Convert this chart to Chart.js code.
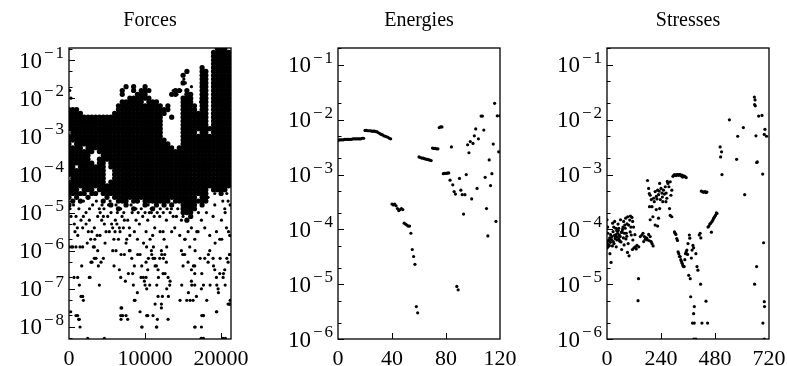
<!DOCTYPE html>
<html>
<head>
<meta charset="utf-8">
<script src="https://cdn.jsdelivr.net/npm/chart.js@4.4.1/dist/chart.umd.min.js"></script>
<style>
  html, body { margin: 0; padding: 0; background: #fff; overflow: hidden; }
  body { width: 787px; height: 366px; position: relative; }
  .panel { position: absolute; top: 0; height: 366px; pointer-events: none; }
</style>
</head>
<body>
<div class="panel" style="left:0;width:300px"><canvas id="forces"></canvas></div>
<div class="panel" style="left:262px;width:314px"><canvas id="energies"></canvas></div>
<div class="panel" style="left:526px;width:324px"><canvas id="stresses"></canvas></div>
<script>
// Forces: the dense cloud, read column by column (every 500 iterations).
// numbers are -10*log10(error), i.e. "25" means 10^-2.5
const forceCols = [0, 500, 1000, 1500, 2000, 2500, 3000, 3500, 4000, 4500, 5000, 5500, 6000, 6500, 7000,
  7500, 8000, 8500, 9000, 9500, 10000, 10500, 11000, 11500, 12000, 12500, 13000, 13500, 14000, 14500,
  15000, 15500, 16000, 16500, 17000, 17500, 18000, 18500, 19000, 19500, 20000, 20500, 21000];
const forceCloud = [
  "23 24 25 26 27 28 30 31 32 33 34 35 36 37 38 39 40 42 43 44 45 46 48",
  "23 24 25 26 27 28 29 30 31 33 34 35 36 37 38 39 40 41 42 43 44 45 47",
  "23 24 25 26 27 28 29 30 31 32 33 34 35 36 37 39 40 41 42 43 44 45 46",
  "24 25 26 27 28 29 30 31 32 33 34 35 36 37 38 39 40 41 42 43 45 47",
  "25 26 27 28 29 30 31 32 34 35 36 37 38 39 40 41 42 43 44 45",
  "25 26 27 28 29 30 31 32 33 34 35 36 37 38 39 40 41 42 43 44 46",
  "25 26 27 28 29 30 31 32 33 34 37 38 39 40 41 42 43 44 45",
  "25 26 27 28 29 30 31 32 33 38 39 40 41 42 43 45",
  "25 26 27 28 29 30 31 32 33 34 36 37 38 39 40 41 42 43 44",
  "25 26 27 28 29 30 31 32 33 34 35 36 37 38 39 40 41 42 43 44 45 47",
  "25 26 27 28 29 30 31 32 33 34 35 36 43 44 45 46",
  "25 26 27 28 29 30 31 32 33 34 35 36 37 38 42 43 44 45 48",
  "24 25 26 27 28 29 30 31 32 33 34 35 36 37 38 39 40 41 42 43 44 45 46",
  "22 23 24 25 26 27 28 29 30 31 32 33 34 35 36 37 38 39 40 41 42 43 44 45 46 47 49",
  "18 19 21 22 23 24 25 26 27 28 29 30 31 32 33 34 35 36 37 38 39 40 41 42 43 44 45 46 47",
  "17 21 22 23 24 25 26 27 28 29 30 31 32 33 34 35 36 37 38 39 40 41 42 43 44 45 46 47 48",
  "20 21 22 23 24 25 26 27 28 29 30 31 32 33 34 35 36 37 38 39 40 41 42 43 44 45 46",
  "17 18 20 21 22 23 24 25 26 27 28 29 30 31 32 33 34 35 36 37 38 39 40 41 42 43 44 45 46 47 49",
  "19 20 21 22 23 24 25 26 27 28 29 30 31 32 33 34 35 36 37 38 39 40 41 42 43 44 45 46 47",
  "18 19 20 21 22 23 24 25 26 27 28 29 30 31 32 33 34 35 36 37 38 39 40 41 42 43 44 45 46",
  "17 18 19 20 22 23 24 25 26 27 28 29 30 31 32 33 34 35 36 37 38 39 40 41 42 43 44 45 46 47 48",
  "18 20 21 22 23 24 25 26 27 28 29 30 31 32 33 34 35 36 37 38 39 40 41 42 43 44 45 46 47",
  "21 22 23 24 25 26 27 28 29 30 31 32 33 34 35 36 37 38 39 40 41 42 43 44 45 46 47 49",
  "21 22 23 24 25 26 27 28 29 30 31 32 33 34 35 36 37 38 39 40 41 42 43 44 45 46 47 48",
  "22 23 24 25 26 27 28 29 30 31 32 33 34 35 36 37 38 39 40 41 42 43 44 45 46 47",
  "23 24 31 32 33 34 35 36 37 38 39 40 41 42 43 44 45 46 47 48",
  "22 23 32 33 34 35 36 37 38 39 40 41 42 43 44 45 46 47",
  "19 25 33 34 35 36 37 38 39 40 41 42 43 44 45 46 48",
  "18 19 34 35 36 37 38 39 40 41 42 43 44 45 46 47",
  "18 33 34 35 36 37 38 39 40 41 42 43 44 45 46 47",
  "14 16 20 21 22 23 24 25 26 27 28 29 30 31 32 33 34 35 36 37 38 39 40 41 42 43 44 45 46 47 48 49 50",
  "13 18 19 20 21 22 23 24 25 26 27 28 29 30 31 32 33 34 35 36 37 38 39 40 41 42 43 44 45 46 47 48 49 50 52",
  "19 20 21 22 23 24 25 26 27 28 29 30 31 32 33 34 35 36 37 38 39 40 41 42 43 44 45 46 47 48 49 50 51",
  "22 23 24 25 26 27 28 29 30 31 32 33 34 35 36 37 38 39 40 41 42 43 44 45 46 47 48 49",
  "24 25 26 27 28 30 31 32 33 34 35 36 37 38 39 40 41 42 43 44 45 47",
  "12 13 14 15 16 17 18 19 20 21 22 23 24 25 26 27 28 29 30 31 32 33 34 35 36 37 38 39 40 41 42 43 44 45 46 47 48",
  "13 14 15 16 17 18 19 20 21 22 23 24 25 26 27 28 29 30 31 32 33 34 35 36 37 38 39 40 41 42 43 44 45 46 47",
  "28 30 31 32 33 34 35 36 37 38 39 40 41 42 43",
  "8 9 10 11 12 13 14 15 16 17 18 19 20 21 22 23 24 25 26 27 28 29 30 31 32 33 34 35 36 37 38 39 40 41 42 43 44",
  "7 8 9 10 11 12 13 14 15 16 17 18 19 20 21 22 23 24 25 26 27 28 29 30 31 32 33 34 35 36 37 38 39 40 41 42 43 44",
  "7 8 9 10 11 12 13 14 15 16 17 18 19 20 21 22 23 24 25 26 27 28 29 30 31 32 33 34 35 36 37 38 39 40 41 42 43 44 45",
  "7 8 9 10 11 12 13 14 15 16 17 18 19 20 21 22 23 24 25 26 27 28 29 30 31 32 33 34 35 36 37 38 39 40 41 42 43 44",
  "8 9 10 11 12 13 14 15 16 17 18 19 20 21 22 23 24 25 26 27 28 29 30 31 32 33 34 35 36 37 38 39 40 41 42 43"
];
// Forces: the loose points outside the cloud, [iteration, -10*log10(error)]
const forceDots = [
  [130,49],[350,59],[790,55],[1100,54],[920,59],[1450,59],[1670,64],[660,67],[220,76],[920,77],[1270,78],[1450,80],
  [1890,51],[2240,53],[2540,55],[2850,57],[3200,59],[3550,62],[3860,64],[4080,56],[4300,52],[2760,67],[1800,72],[1890,73],
  [2460,83],[4650,83],[4520,51],[4870,55],[5400,47],[4740,58],[4520,62],[6050,55],[5750,60],[6360,50],[5920,64],[6800,67],
  [6930,75],[6800,77],[7500,77],[6710,55],[7150,54],[7590,57],[8030,60],[8250,62],[7810,66],[8460,69],[8680,73],[8990,71],
  [9340,61],[9560,64],[9780,67],[10000,69],[10220,70],[10440,62],[10660,57],[10880,61],[11100,59],[11320,64],[11540,69],
  [11760,67],[11970,55],[12190,61],[12410,62],[12630,66],[12850,70],[13070,72],[13290,68],[12850,59],[12280,72],[11320,74],
  [11540,80],[10220,77],[9340,76],[9560,80],[11620,78],[14600,73],[14960,61],[15260,57],[14820,69],[15700,71],[15480,73],
  [15920,73],[16140,69],[16360,64],[16580,60],[16800,55],[17020,50],[17240,62],[17460,66],[17680,69],[17460,77],[17680,77],
  [16580,80],[17370,83],[17680,83],[18110,73],[18550,69],[18330,61],[19000,64],[19210,58],[19430,69],[19650,71],[19870,62],
  [20090,57],[20310,66],[20530,69],[20750,62],[20970,55],[21100,61],[19430,76],[21100,74],[21190,73],[20220,47],[20530,50],
  [21190,48],[20750,45],
  [44,59],[482,59],[1798,59],[3333,59],[3772,60],[4211,63],[3333,62],[3026,63],[2895,63],[2675,67],[3991,69],[6184,60],
  [6623,65],[6842,61],[7281,61],[7412,68],[7939,60],[8377,66],[8596,64],[9035,61],[9474,67],[9912,68],[10132,63],[10351,65],
  [10132,67],[8596,73],[6842,75],[7061,77],[6842,78],[7719,78],[9605,80],[10351,77],[1140,67],[1360,69],[1579,72],[1140,77],[1360,78],
  [263,51],[921,51],[1579,52],[2237,50],[2675,52],[3333,54],[3772,51],[3991,49],[4342,48],[4649,53],[5088,51],[5526,50],[5746,54],
  [6096,52],[6184,48],[6623,54],[6974,51],[7281,52],[7719,52],[7939,54],[8158,48],[8596,55],[8816,52],[9254,53],[9693,51],[9912,48],
  [10132,55],[10351,52],[10570,50],[1150,56],[2400,58],[3400,57],[5900,57],[7500,58],[9800,58],[10200,59],
  [10834,50],[11272,54],[11930,51],[12368,55],[12807,52],[13465,49],[13904,54],[14123,51],[14561,56],[14781,52],[15000,51],
  [15219,57],[15658,55],[16096,54],[16535,57],[16974,55],[17412,52],[17851,54],[18070,50],[18509,56],[18947,51],[19167,48],
  [19386,55],[19825,57],[20044,52],[20482,49],[20702,54],[21140,56],[20921,47],[19167,45],[18289,46],[20263,44],
  [10832,60],[11051,62],[11270,62],[11490,64],[11709,65],[11928,62],[12147,60],[12586,61],[12805,63],[13025,67],[13244,69],
  [12367,66],[10612,69],[11709,72],[12147,74],[12147,75],[11051,77],[11490,80],[13025,78],[14779,60],[14998,64],[15218,61],
  [15656,63],[15876,59],[16095,65],[16095,68],[16534,64],[16534,66],[16534,69],[16314,73],[16753,72],[17411,70],[17630,77],
  [17411,80],[17849,62],[18288,63],[18507,60],[18946,62],[19165,65],[19384,67],[19604,70],[19823,66],[20262,67],[20481,65],
  [20919,63],[21139,61],[19384,76],[20919,74],[21139,74],[16534,80],[17411,83],[20262,83],[20569,83],
  [100,18],[250,20],[13700,18],[14200,19],[14700,18],[15100,15],[15300,16],[16100,17],[17300,21],
  [600,48],[1300,49],[1900,47],[2700,49],[3100,48],[3600,47],[4100,50],[4600,49],[5200,48],[5600,53],[6300,53],[6800,49],
  [7200,50],[7600,48],[8300,50],[8800,49],[9100,50],[9500,49],[10000,50],[10400,48],[10800,49],[11200,51],[11600,50],
  [12000,49],[12400,50],[12900,49],[13300,50],[13700,51],[14300,49],[700,53],[1800,54],[3000,55],[3700,56],[5300,55],
  [6500,57],[8000,56],[9000,57],[11000,56],[12500,57],[13500,55]
];

// Energies: one value per iteration
const energyIter = [
  0,1,2,3,4,5,6,7,8,9,10,11,12,13,14,15,16,17,18,19,20,21,22,23,24,25,26,27,28,29,
  30,31,32,33,34,35,36,37,38,39,40,41,42,43,44,45,46,47,48,49,50,51,52,53,54,55,56,57,58,59,
  60,61,62,63,64,65,66,67,68,69,70,71,72,73,74,75,76,77,78,79,80,81,82,
  83,84,85,86,87,88,89,90,91,92,93,94,95,96,97,98,99,100,101,102,103,104,106,107,108,109,110,
  111,112,113,114,115,116,117,118,119,120
];
const energyErr = [
  4.2e-3,4.3e-3,4.3e-3,4.3e-3,4.3e-3,4.4e-3,4.4e-3,4.4e-3,4.4e-3,4.4e-3,4.4e-3,4.5e-3,4.5e-3,4.5e-3,4.5e-3,4.5e-3,4.5e-3,4.5e-3,4.6e-3,4.6e-3,
  6.4e-3,6.4e-3,6.3e-3,6.3e-3,6.3e-3,6.2e-3,6.2e-3,6.2e-3,6.1e-3,6.0e-3,
  5.8e-3,5.6e-3,5.4e-3,5.3e-3,5.1e-3,5.0e-3,4.9e-3,4.8e-3,4.6e-3,4.5e-3,
  2.9e-4,2.8e-4,2.9e-4,2.7e-4,2.4e-4,2.2e-4,2.3e-4,2.4e-4,2.3e-4,
  1.3e-4,1.25e-4,1.2e-4,1.15e-4,1.15e-4,
  8.5e-5,4.3e-5,3.2e-5,2.3e-5,3.9e-6,3.0e-6,
  2.1e-3,2.05e-3,2.0e-3,2.0e-3,1.95e-3,1.92e-3,1.9e-3,1.87e-3,1.83e-3,1.8e-3,
  3.05e-3,3.0e-3,3.0e-3,2.95e-3,2.95e-3,
  7.2e-3,7.4e-3,7.4e-3,
  1.04e-3,1.05e-3,1.05e-3,1.06e-3,1.07e-3,
  7.9e-4,3.2e-3,6.5e-4,4.9e-4,4.4e-4,9.1e-6,7.9e-6,8.5e-4,5.2e-4,4.3e-4,1.9e-4,4.3e-4,1.0e-3,3.5e-3,2.5e-3,4.0e-3,
  3.6e-4,3.7e-3,5.1e-3,6.8e-3,5.6e-4,4.5e-3,1.17e-2,1.17e-2,6.5e-3,8.9e-4,2.4e-4,
  7.6e-5,1.85e-3,6.3e-4,1.04e-3,3.6e-3,2.0e-2,1.4e-4,1.18e-2,2.6e-3,1.18e-2
];

// Stresses: [iteration, error]
const stressPoints = [
  [0,1.5e-4],[1,4.6e-5],[2,5.5e-5],[3,1.1e-4],[4,8.5e-5],[5,6.2e-5],[7,4.9e-5],[9,6.4e-5],[10,5.1e-5],[12,7.0e-5],
  [13,3.6e-5],[15,5.8e-5],[16,8.0e-5],[18,2.5e-5],[20,6.5e-5],[22,7.4e-5],[24,5.0e-5],[25,1.3e-4],[27,9.1e-5],[28,6.0e-5],
  [30,1.1e-4],[31,5.5e-5],[33,7.8e-5],[34,1.4e-4],[36,6.8e-5],[37,7.4e-5],[39,1.05e-4],[40,8.0e-5],[41,4.8e-5],[43,9.5e-5],
  [44,6.4e-5],[46,7.2e-5],[47,8.5e-5],[49,1.25e-4],[50,9.5e-5],[52,1.05e-4],[53,6.6e-5],[55,7.9e-5],[57,6.1e-5],[59,7.4e-5],
  [60,1.5e-4],[62,5.9e-5],[64,8.8e-5],[65,4.3e-5],[67,9.1e-5],[69,1.0e-4],[71,1.1e-4],[73,7.0e-5],[74,1.4e-4],[76,5.2e-5],
  [77,8.5e-5],[79,1.2e-4],[81,1.05e-4],[83,1.6e-4],[84,6.7e-5],[86,8.5e-5],[88,7.5e-5],[89,1.26e-4],[91,3.8e-5],[92,1.7e-4],
  [94,5.5e-5],[96,1.2e-4],[98,3.3e-5],[101,1.48e-4],[103,9.0e-5],[104,1.75e-4],[106,1.1e-4],[108,7.9e-5],[111,1.65e-4],
  [113,4.3e-5],[114,1.4e-4],[115,6.4e-5],[118,1.1e-4],[120,4.6e-5],[124,8.0e-5],[126,4.8e-5],[130,4.4e-5],[133,5.1e-5],
  [138,5.0e-6],[140,1.26e-5],[141,4.8e-5],[148,7.4e-5],[155,7.9e-5],[160,8.5e-5],[163,6.0e-5],[166,7.4e-5],[170,6.6e-5],
  [172,7.1e-5],[177,6.9e-5],[180,6.4e-5],[185,8.1e-5],[189,6.2e-5],[192,7.4e-5],[196,6.0e-5],[200,5.5e-5],[205,5.0e-5],
  [180,7.8e-4],[185,5.6e-4],[188,4.5e-4],[189,2.6e-4],[192,4.2e-4],[192,1.5e-4],[197,3.5e-4],[200,2.6e-4],[204,1.7e-4],
  [207,3.7e-4],[210,3.2e-4],[214,4.9e-4],[214,1.2e-4],[219,4.0e-4],[219,2.3e-4],[222,3.6e-4],[225,5.2e-4],[225,1.15e-4],
  [229,4.3e-4],[229,1.6e-4],[232,5.0e-4],[234,6.9e-4],[234,2.4e-4],[237,3.5e-4],[240,5.6e-4],[244,4.6e-4],[246,3.9e-4],
  [248,3.2e-4],[251,5.2e-4],[255,4.4e-4],[259,6.0e-4],[262,3.2e-4],[263,4.6e-4],[266,3.7e-4],[268,7.5e-4],[271,6.9e-4],
  [275,6.0e-4],[278,2.4e-4],[281,7.4e-4],[281,1.8e-4],[284,4.2e-4],[288,5.2e-4],[288,1.7e-4],
  [293,9.3e-4],[296,9.6e-4],[300,1.0e-3],[303,9.8e-4],[307,9.6e-4],[311,1.0e-3],[315,1.0e-3],[318,9.7e-4],[322,1.0e-3],
  [325,1.0e-3],[329,9.5e-4],[333,9.8e-4],[336,9.0e-4],[340,9.5e-4],[344,9.3e-4],[348,9.1e-4],[352,8.8e-4],
  [300,9.0e-5],[303,8.5e-5],[306,8.1e-5],[310,6.8e-5],[313,6.3e-5],[316,3.9e-5],[319,3.6e-5],[322,3.2e-5],[325,3.2e-5],
  [328,2.8e-5],[331,2.6e-5],[334,2.4e-5],[337,2.2e-5],[340,2.1e-5],[343,2.1e-5],[346,2.8e-5],[349,3.6e-5],[352,3.9e-5],
  [355,4.2e-5],[358,3.5e-5],[360,5.5e-5],[363,1.45e-5],[366,7.9e-5],[368,6.9e-5],[370,1.26e-5],[372,5.9e-6],[375,3.0e-5],
  [378,4.2e-5],[380,1.95e-6],[382,5.1e-5],[385,4.6e-5],[385,2.9e-6],[388,3.9e-6],[388,1.95e-6],[386,1.0e-6],[395,1.0e-6],
  [395,3.6e-5],[400,2.1e-5],[404,1.8e-5],[410,7.9e-5],[414,8.5e-5],[417,7.0e-5],[416,1.0e-5],[422,1.95e-6],[440,4.9e-6],
  [447,1.95e-6],
  [419,5.0e-4],[423,4.9e-4],[427,4.8e-4],[431,4.8e-4],[436,4.9e-4],[440,4.7e-4],[444,4.8e-4],
  [449,1.1e-4],[453,1.15e-4],[457,1.25e-4],[461,1.3e-4],[464,8.9e-5],[467,1.4e-4],[471,1.5e-4],[474,1.6e-4],[478,1.7e-4],
  [482,1.8e-4],[486,2.0e-4],[489,1.95e-4],
  [503,3.2e-3],[505,2.1e-3],[509,2.6e-3],[511,1.0e-3],[544,1.0e-2],[576,1.9e-3],[581,5.0e-3],[606,7.2e-3],[612,4.3e-4],
  [655,2.6e-2],[656,1.9e-2],[658,2.3e-2],[659,1.8e-2],[656,1.0e-5],[662,5.1e-3],[665,1.66e-3],[668,1.7e-3],[665,2.1e-5],
  [674,1.17e-2],[689,1.2e-2],[692,1.02e-3],[696,5.7e-5],[693,1.95e-6],[699,4.8e-6],[700,3.9e-6],[699,1.0e-6],[702,6.7e-3],
  [699,5.4e-3],[709,5.0e-3]
];

const FONT = "'Liberation Serif', 'DejaVu Serif', serif";

function logTicks(min, max) {
  const out = [];
  for (let e = -10; e <= 0; e++) {
    [1, 2, 5].forEach(m => {
      const v = m * Math.pow(10, e);
      if (v >= min * 0.999 && v <= max * 1.001) out.push(v);
    });
  }
  return out;
}

function isDecade(v) {
  const l = Math.log10(v);
  return Math.abs(l - Math.round(l)) < 1e-6;
}

// frame, inward ticks and the 10^n labels of the y axis
const frameTicks = {
  id: 'frameTicks',
  afterDraw(chart) {
    const { ctx, chartArea: a } = chart;
    const x = chart.scales.x, y = chart.scales.y;
    ctx.save();
    ctx.strokeStyle = '#000';
    ctx.lineWidth = 1;
    ctx.beginPath();
    y.ticks.forEach(t => {
      const py = Math.round(y.getPixelForValue(t.value)) + 0.5;
      ctx.moveTo(a.left, py);
      ctx.lineTo(a.left + (isDecade(t.value) ? 6 : 3.5), py);
    });
    x.ticks.forEach(t => {
      const px = Math.round(x.getPixelForValue(t.value)) + 0.5;
      if (px < a.left + 2 || px > a.right - 2) return;
      ctx.moveTo(px, a.bottom);
      ctx.lineTo(px, a.bottom - 6);
    });
    ctx.stroke();
    ctx.lineWidth = 1.3;
    ctx.strokeRect(a.left, a.top, a.right - a.left, a.bottom - a.top);

    // y labels: "10" with a raised exponent
    ctx.fillStyle = '#000';
    ctx.textAlign = 'left';
    ctx.textBaseline = 'alphabetic';
    y.ticks.forEach(t => {
      if (!isDecade(t.value)) return;
      const py = y.getPixelForValue(t.value);
      const ex = String(Math.abs(Math.round(Math.log10(t.value))));
      ctx.font = '17px ' + FONT;
      const wm = ctx.measureText('\u2212').width;
      const wd = ctx.measureText(ex).width;
      ctx.font = '23px ' + FONT;
      const wb = ctx.measureText('10').width;
      const right = a.left - 5;
      const xd = right - wd;
      const xm = xd - 2 - wm;
      const xb = xm - 2 - wb;
      ctx.fillText('10', xb, py + 7.5);
      ctx.font = '17px ' + FONT;
      ctx.fillText('\u2212', xm, py - 2);
      ctx.fillText(ex, xd, py - 2);
    });
    ctx.restore();
  }
};

function makePanel(id, title, datasets, xMax, xTicks, yMin, yMax, side) {
  new Chart(document.getElementById(id), {
    type: 'scatter',
    data: { datasets: datasets },
    options: {
      responsive: true,
      maintainAspectRatio: false,
      animation: false,
      events: [],
      layout: { padding: { left: side, right: side, top: 0, bottom: 0 } },
      plugins: {
        legend: { display: false },
        tooltip: { enabled: false },
        title: {
          display: true,
          text: title,
          color: '#000',
          font: { family: FONT, size: 20, weight: 'normal' },
          padding: { top: 9, bottom: 15 }
        }
      },
      scales: {
        x: {
          type: 'linear',
          min: 0,
          max: xMax,
          afterBuildTicks: s => { s.ticks = xTicks.map(v => ({ value: v })); },
          afterFit: s => { s.height = 27; },
          grid: { display: false },
          border: { display: false },
          ticks: { color: '#000', padding: -1, maxRotation: 0, autoSkip: false,
            font: { family: FONT, size: 22 }, callback: v => String(v) }
        },
        y: {
          type: 'logarithmic',
          min: yMin,
          max: yMax,
          afterBuildTicks: s => { s.ticks = logTicks(yMin, yMax).map(v => ({ value: v })); },
          afterFit: s => { s.width = 0; },
          grid: { display: false },
          border: { display: false },
          ticks: { display: false }
        }
      }
    },
    plugins: [frameTicks]
  });
}

// build point lists from the arrays above
const cloudPts = [];
forceCols.forEach((c, i) => {
  forceCloud[i].split(' ').forEach(n => cloudPts.push({ x: c, y: Math.pow(10, -Number(n) / 10) }));
});
const dotPts = forceDots.map(d => ({ x: d[0], y: Math.pow(10, -d[1] / 10) }));
const energyPts = energyIter.map((it, i) => ({ x: it, y: energyErr[i] }));
const stressPts = stressPoints.map(p => ({ x: p[0], y: p[1] }));

const dot = r => ({ pointRadius: r, pointHoverRadius: r, pointBackgroundColor: '#000', pointBorderWidth: 0, showLine: false });

makePanel('forces', 'Forces', [
  Object.assign({ data: cloudPts }, dot(2.6)),
  Object.assign({ data: dotPts }, dot(1.6))
], 21300, [0, 10000, 20000], 4.84e-9, 0.2065, 69);

makePanel('energies', 'Energies', [
  Object.assign({ data: energyPts }, dot(1.6))
], 120, [0, 40, 80, 120], 1e-6, 0.204, 76);

makePanel('stresses', 'Stresses', [
  Object.assign({ data: stressPts }, dot(1.6))
], 720, [0, 240, 480, 720], 1e-6, 0.204, 81);
</script>
</body>
</html>
